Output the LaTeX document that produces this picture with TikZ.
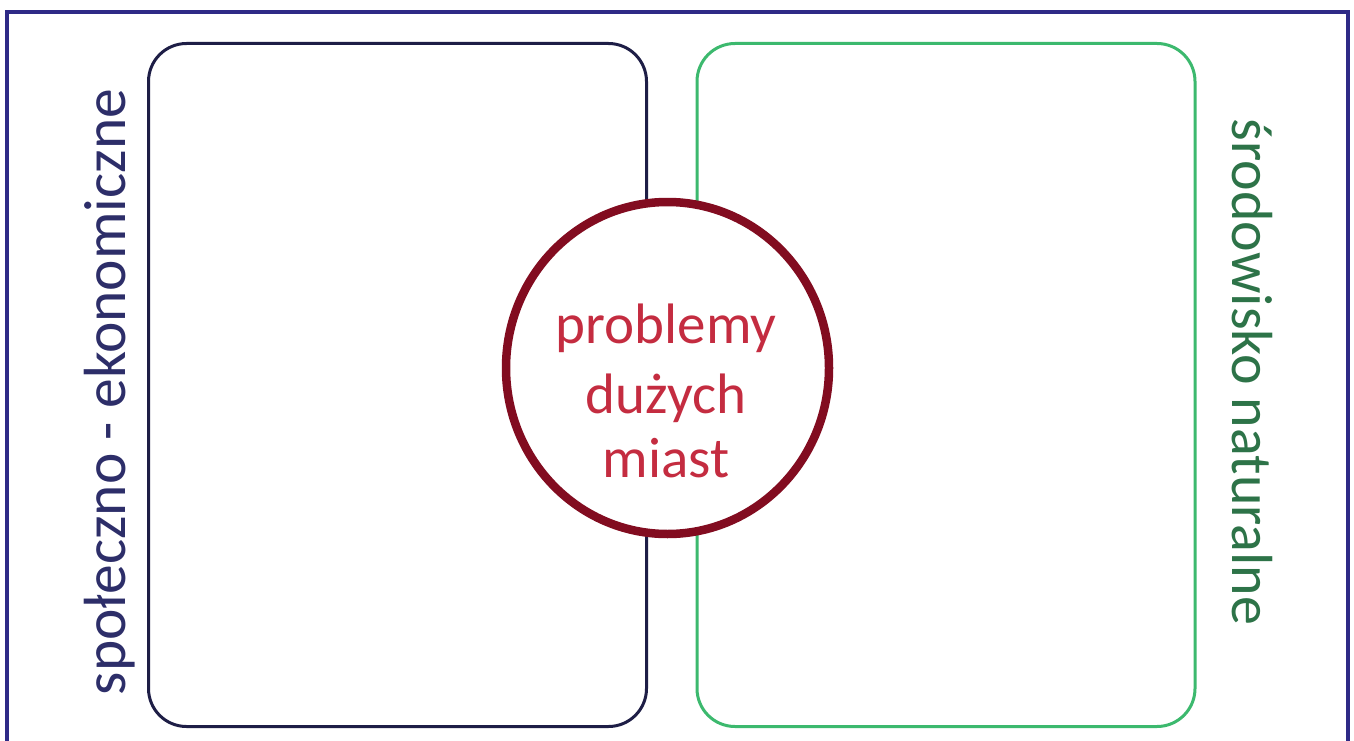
\documentclass[tikz,border=0pt]{standalone}
\usepackage{fontspec}
\setmainfont{Carlito}
\usetikzlibrary{shapes.geometric}
\definecolor{framecol}{RGB}{46,42,134}
\definecolor{navybox}{RGB}{30,30,70}
\definecolor{navytext}{RGB}{45,46,105}
\definecolor{greenbox}{RGB}{60,185,110}
\definecolor{greentext}{RGB}{45,115,72}
\definecolor{ringcol}{RGB}{130,12,32}
\definecolor{ringtext}{RGB}{196,44,64}
\tikzset{
  panel/.style={draw, line width=3pt, rounded corners=38pt, minimum width=498pt, minimum height=683pt, inner sep=0pt},
  sidelabel/.style={inner sep=0pt, anchor=base},
  ring/.style={ellipse, draw=ringcol, line width=8.5pt, fill=white, minimum width=323pt, minimum height=332pt, inner sep=0pt},
  ringlabel/.style={font=\fontsize{57}{67}\selectfont, text=ringtext, inner sep=0pt, anchor=base}
}
\begin{document}
\begin{tikzpicture}[x=1pt,y=-1pt]
\useasboundingbox (0,0) rectangle (1354,741);
\fill[white] (0,0) rectangle (1354,741);
% frame
\draw[framecol, line width=4.5pt] (7,760) -- (7,12) -- (1348,12) -- (1348,760);
% panels
\node[panel, draw=navybox] (left) at (397.5,385) {};
\node[panel, draw=greenbox] (right) at (946,385) {};
% side labels
\node[sidelabel, rotate=90, text=navytext, font=\fontsize{59.5}{70}\selectfont] (lefttext) at (125,392) {społeczno - ekonomiczne};
\node[sidelabel, rotate=-90, text=greentext, font=\fontsize{58}{68}\selectfont] (righttext) at (1232,372) {środowisko naturalne};
% central ring
\node[ring] (ringnode) at (667.5,368) {};
\node[ringlabel] (l1) at (666,343) {problemy};
\node[ringlabel] (l2) at (666,413) {dużych};
\node[ringlabel] (l3) at (666,477) {miast};
\end{tikzpicture}
\end{document}
